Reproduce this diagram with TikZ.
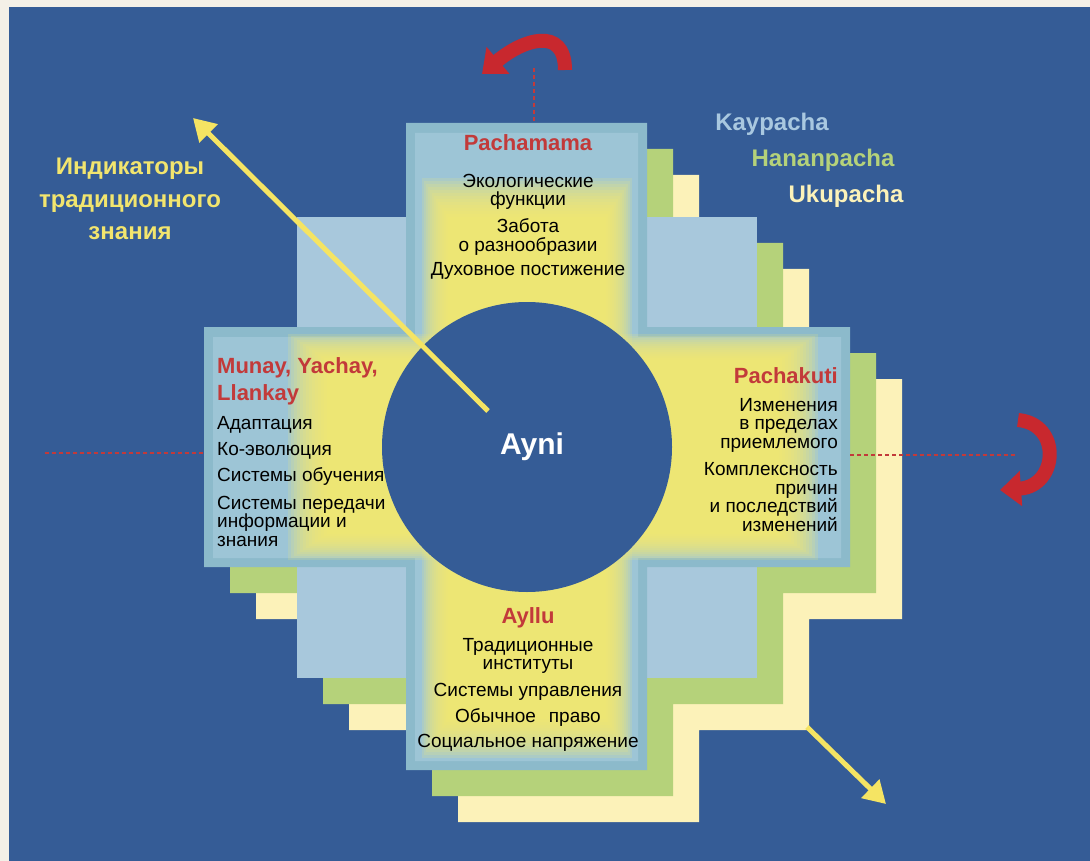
\documentclass[tikz,border=0pt]{standalone}
\usepackage{fontspec}
\setmainfont{Liberation Sans}
\usetikzlibrary{arrows.meta}
\definecolor{margincream}{HTML}{F4F0E7}
\definecolor{bgblue}{HTML}{355C96}
\definecolor{sqblue}{HTML}{A8C8DC}
\definecolor{barteal}{HTML}{8CBACB}
\definecolor{barlight}{HTML}{9DC5D6}
\definecolor{glowyellow}{HTML}{F8EC6E}
\definecolor{stepgreen}{HTML}{B5D27A}
\definecolor{stepcream}{HTML}{FCF2B9}
\definecolor{arrowred}{HTML}{C8282E}
\definecolor{headred}{HTML}{C23A3A}
\definecolor{labelyellow}{HTML}{F2E56E}
\definecolor{kayblue}{HTML}{A9C8E0}
\definecolor{arrowyellow}{HTML}{F5E463}
\tikzset{
  body/.style={font=\fontsize{19}{18.5}\selectfont, text=black, inner sep=0pt, align=center},
  heading/.style={font=\bfseries\fontsize{22}{27}\selectfont, text=headred, inner sep=0pt},
  worldlabel/.style={font=\bfseries\fontsize{24}{28}\selectfont, inner sep=0pt},
  reddash/.style={draw=headred, line width=2.8pt, dash pattern=on 4pt off 3pt},
  yellowarrow/.style={draw=arrowyellow, line width=5pt, -{Triangle[width=25pt,length=22pt]}},
  redturn/.style={draw=arrowred, line width=14pt, -{Triangle[width=34pt,length=21pt]}},
}
\begin{document}
\begin{tikzpicture}[x=1pt,y=-1pt]
\useasboundingbox (0,0) rectangle (1090,861);
\fill[margincream] (0,0) rectangle (1090,861);
\fill[bgblue] (9,7) rectangle (1090,861);
% back layers of the stepped cross
\fill[stepcream, shift={(52,52)}] (406,123) rectangle (647,770) (204,327) rectangle (850,567) (297,217) rectangle (757,678);
\fill[stepgreen, shift={(26,26)}] (406,123) rectangle (647,770) (204,327) rectangle (850,567) (297,217) rectangle (757,678);
% front layer
\fill[sqblue] (297,217) rectangle (757,678);
\fill[barteal] (406,123) rectangle (647,770) (204,327) rectangle (850,567);
\fill[barlight] (415,133) rectangle (638,761) (213,337) rectangle (841,558);
\foreach \i in {0,...,13} {
  \fill[glowyellow, fill opacity=0.16] (422+2*\i,178+3*\i) rectangle (632-2*\i,758-3*\i);
  \fill[glowyellow, fill opacity=0.16] (288+3*\i,334+2*\i) rectangle (818-3*\i,560-2*\i);
}
% central circle
\fill[bgblue] (527,447) circle[radius=145];
\node[font=\bfseries\fontsize{30}{30}\selectfont, text=white, inner sep=0pt] (ayni) at (532,447) {Ayni};
% yellow arrows
\coordinate (ya1) at (488,411);
\coordinate (ya2) at (193,118);
\draw[yellowarrow] (ya1) -- (ya2);
\coordinate (yb1) at (807,727);
\coordinate (yb2) at (886,804);
\draw[yellowarrow] (yb1) -- (yb2);
% red dashed axes
\coordinate (td1) at (534,68);
\coordinate (td2) at (534,123);
\draw[reddash] (td1) -- (td2);
\coordinate (ld1) at (45,453);
\coordinate (ld2) at (204,453);
\draw[reddash] (ld1) -- (ld2);
\coordinate (rd1) at (850,455);
\coordinate (rd2) at (1016,455);
\draw[reddash] (rd1) -- (rd2);
% red turning arrows
\coordinate (ta1) at (565,70);
\coordinate (ta2) at (482,74);
\draw[redturn] (ta1) .. controls (565,25) and (522,40) .. (ta2);
\coordinate (ra1) at (1018,420);
\coordinate (ra2) at (1000,490);
\draw[redturn] (ra1) .. controls (1062,424) and (1058,486) .. (ra2);
% world labels
\node[worldlabel, text=kayblue] (kay) at (772,124) {Kaypacha};
\node[worldlabel, text=stepgreen] (hanan) at (823,160) {Hananpacha};
\node[worldlabel, text=stepcream] (uku) at (846,196) {Ukupacha};
% indicator label
\node[font=\bfseries\fontsize{24}{32.5}\selectfont, text=labelyellow, align=center, inner sep=0pt] (ind) at (130,199) {Индикаторы\\традиционного\\знания};
% top arm
\node[heading] (pacha) at (528,143) {Pachamama};
\node[body] (t1) at (528,192) {Экологические\\функции};
\node[body] (t2) at (528,237) {Забота\\о разнообразии};
\node[body] (t3) at (528,271) {Духовное постижение};
% left arm
\node[heading, anchor=west, align=left] (munay) at (217,381) {Munay, Yachay,\\Llankay};
\node[body, anchor=west, align=left] (l1) at (217,425) {Адаптация};
\node[body, anchor=west, align=left] (l2) at (217,451) {Ко-эволюция};
\node[body, anchor=west, align=left] (l3) at (217,477) {Системы обучения};
\node[body, anchor=west, align=left] (l4) at (217,521) {Системы передачи\\информации и\\знания};
% right arm
\node[heading, anchor=east] (pachakuti) at (838,376) {Pachakuti};
\node[body, anchor=east, align=right] (r1) at (838,425) {Изменения\\в пределах\\приемлемого};
\node[body, anchor=east, align=right] (r2) at (838,497) {Комплексность\\причин\\и последствий\\изменений};
% bottom arm
\node[heading] (ayllu) at (528,618) {Ayllu};
\node[body] (b1) at (528,656) {Традиционные\\институты};
\node[body] (b2) at (528,692) {Системы управления};
\node[body] (b3) at (528,717) {Обычное\hspace{0.4em} право};
\node[body] (b4) at (528,743) {Социальное напряжение};
\end{tikzpicture}
\end{document}
